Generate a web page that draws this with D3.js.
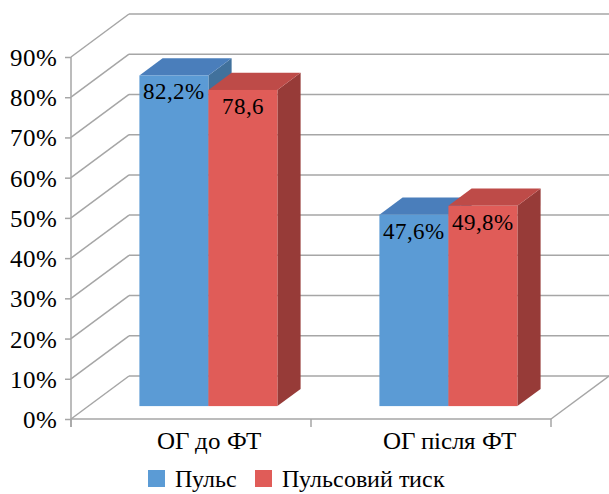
<!DOCTYPE html>
<html>
<head>
<meta charset="utf-8">
<script src="https://cdn.jsdelivr.net/npm/d3@7"></script>
<style>
  @font-face {
    font-family: "ChartSerif";
    src: local("Liberation Serif"), local("LiberationSerif"), local("Liberation Serif Regular"), local("LiberationSerif-Regular");
  }
  body { margin: 0; }
  .lbl { font-family: "ChartSerif", "Liberation Serif", "Times New Roman", serif; }
</style>
</head>
<body>
<svg id="chart" width="609" height="494"></svg>
<script>
// Categories, series and values
const categories = ["ОГ до ФТ", "ОГ після ФТ"];
const seriesNames = ["Пульс", "Пульсовий тиск"];
const pulse = [82.2, 47.6];
const pulsePressure = [78.6, 49.8];
const pulseLabels = ["82,2%", "47,6%"];
const pulsePressureLabels = ["78,6", "49,8%"];
const yTicks = [0, 10, 20, 30, 40, 50, 60, 70, 80, 90];

const seriesValues = [pulse, pulsePressure];
const seriesLabels = [pulseLabels, pulsePressureLabels];

const palette = [
  { front: "#5B9BD5", top: "#4A7EBB", side: "#41719C" },
  { front: "#E05C58", top: "#BE4B48", side: "#973B38" }
];

const svg = d3.select("#chart");

// Front plane of the 3-D box
const plotLeft = 71, plotRight = 551, plotBottom = 419, plotTop = 57;
// Oblique depth offset of the back wall
const depthX = 58, depthY = 43;
// Bars occupy the middle part of the depth
const barFront = 0.3, barBack = 0.7;

const y = d3.scaleLinear().domain([0, 90]).range([plotBottom, plotTop]);
const x0 = d3.scaleBand().domain(categories).range([plotLeft, plotRight])
  .paddingInner(0.425).paddingOuter(0.2125);
const x1 = d3.scaleBand().domain(seriesNames).range([0, x0.bandwidth()]);

const grid = svg.append("g").attr("stroke", "#A6A6A6").attr("stroke-width", 1.5).attr("fill", "none");

// Back-wall grid lines and their diagonals to the value axis
yTicks.forEach(t => {
  const yy = y(t);
  grid.append("line")
    .attr("x1", plotLeft + depthX).attr("x2", plotRight + depthX)
    .attr("y1", yy - depthY).attr("y2", yy - depthY);
  grid.append("line")
    .attr("x1", plotLeft).attr("y1", yy)
    .attr("x2", plotLeft + depthX).attr("y2", yy - depthY);
});

// Floor: front edge and right diagonal
grid.append("line").attr("x1", plotLeft).attr("x2", plotRight).attr("y1", plotBottom).attr("y2", plotBottom);
grid.append("line").attr("x1", plotRight).attr("y1", plotBottom)
  .attr("x2", plotRight + depthX).attr("y2", plotBottom - depthY);
grid.append("line").attr("x1", plotLeft).attr("x2", plotLeft).attr("y1", plotTop).attr("y2", plotBottom + 8);

// Value axis: tick marks from the axis generator, labels drawn as plain text
const yAxis = d3.axisLeft(y).tickValues(yTicks).tickSize(6).tickFormat("");
const yAxisG = svg.append("g").attr("transform", `translate(${plotLeft},0)`).call(yAxis);
yAxisG.select(".domain").remove();
yAxisG.selectAll(".tick line").attr("stroke", "#A6A6A6").attr("stroke-width", 1.5);

svg.append("g").selectAll("text").data(yTicks).join("text")
  .attr("class", "lbl")
  .attr("x", plotLeft - 14)
  .attr("y", d => y(d) + 9)
  .attr("text-anchor", "end")
  .attr("font-size", 25)
  .text(d => d + "%");

// Category tick marks on the floor edge
const catTicks = [plotLeft, (plotLeft + plotRight) / 2, plotRight];
catTicks.forEach(cx => {
  grid.append("line").attr("x1", cx).attr("x2", cx).attr("y1", plotBottom).attr("y2", plotBottom + 8);
});

// Bars
const dxF = depthX * barFront, dyF = depthY * barFront;
const dd = depthX * (barBack - barFront), ddy = depthY * (barBack - barFront);
const bars = svg.append("g");

categories.forEach((cat, ci) => {
  seriesNames.forEach((s, si) => {
    const v = seriesValues[si][ci];
    const c = palette[si];
    const xa = x0(cat) + x1(s) + dxF;
    const xb = xa + x1.bandwidth();
    const yt = y(v) - dyF;
    const yb = y(0) - dyF;
    const g = bars.append("g");
    g.append("polygon")
      .attr("points", [[xb, yt], [xb + dd, yt - ddy], [xb + dd, yb - ddy], [xb, yb]].join(" "))
      .attr("fill", c.side);
    g.append("polygon")
      .attr("points", [[xa, yt], [xb, yt], [xb + dd, yt - ddy], [xa + dd, yt - ddy]].join(" "))
      .attr("fill", c.top);
    g.append("rect")
      .attr("x", xa).attr("y", yt).attr("width", xb - xa).attr("height", yb - yt)
      .attr("fill", c.front);
  });
});

// Value labels
categories.forEach((cat, ci) => {
  seriesNames.forEach((s, si) => {
    const v = seriesValues[si][ci];
    const xa = x0(cat) + x1(s) + dxF;
    svg.append("text")
      .attr("class", "lbl")
      .attr("x", xa + x1.bandwidth() / 2)
      .attr("y", y(v) - dyF + 24)
      .attr("text-anchor", "middle")
      .attr("font-size", 23)
      .text(seriesLabels[si][ci]);
  });
});

// Category labels
categories.forEach(d => {
  svg.append("text")
    .attr("class", "lbl")
    .attr("x", x0(d) + x0.bandwidth() / 2 + 18)
    .attr("y", 449)
    .attr("text-anchor", "middle")
    .attr("font-size", 25)
    .text(d);
});

// Legend
const legendX = [148, 255];
seriesNames.forEach((s, si) => {
  svg.append("rect")
    .attr("x", legendX[si]).attr("y", 470).attr("width", 17).attr("height", 17)
    .attr("fill", palette[si].front);
  svg.append("text")
    .attr("class", "lbl")
    .attr("x", legendX[si] + 27).attr("y", 487)
    .attr("font-size", 24)
    .text(s);
});
</script>
</body>
</html>
